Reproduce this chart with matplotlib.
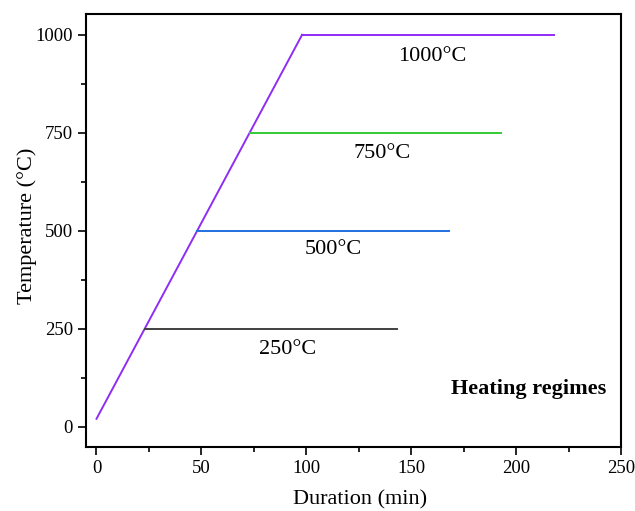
import matplotlib
matplotlib.use("Agg")
import matplotlib.pyplot as plt
from matplotlib.ticker import MultipleLocator

plt.rcParams['font.family'] = ['Liberation Serif', 'DejaVu Serif']

# heating ramp then hold at each target temperature
ramp_x = [0, 98]
ramp_y = [20, 1000]
temps = [250, 500, 750, 1000]
hold_start = [23, 48, 73, 98]
hold_end = [143, 168, 193, 218]
colors = ['#404040', '#1f6fe0', '#33cc33', '#8f2cf5']
labels = ['250°C', '500°C', '750°C', '1000°C']
label_x = [91, 113, 136, 160]
label_y = [196, 452, 696, 944]

fig = plt.figure(figsize=(6.35, 5.11), dpi=100)
ax = fig.add_axes([86/635, 64/511, 535/635, 433/511])

ax.plot(ramp_x, ramp_y, color=colors[3], lw=1.4)
for t, x0, x1, c in zip(temps, hold_start, hold_end, colors):
    ax.plot([x0, x1], [t, t], color=c, lw=1.4)
for lab, lx, ly in zip(labels, label_x, label_y):
    ax.text(lx, ly, lab, ha='center', va='center', fontsize=16)

ax.text(243, 97, 'Heating regimes', ha='right', va='center', fontsize=16, fontweight='bold')

ax.set_xlim(-5, 250)
ax.set_ylim(-52, 1053)
ax.xaxis.set_major_locator(MultipleLocator(50))
ax.xaxis.set_minor_locator(MultipleLocator(25))
ax.yaxis.set_major_locator(MultipleLocator(250))
ax.yaxis.set_minor_locator(MultipleLocator(125))
ax.tick_params(which='major', direction='out', length=6, width=1.2, labelsize=13.5)
ax.tick_params(which='minor', direction='out', length=3.5, width=1.2)
for s in ax.spines.values():
    s.set_linewidth(1.5)

ax.set_xlabel('Duration (min)', fontsize=16)
ax.set_ylabel('Temperature (°C)', fontsize=16)
ax.xaxis.set_label_coords(0.513, -0.101)
ax.yaxis.set_label_coords(-0.091, 0.51)

fig.savefig('out.png', dpi=100)
